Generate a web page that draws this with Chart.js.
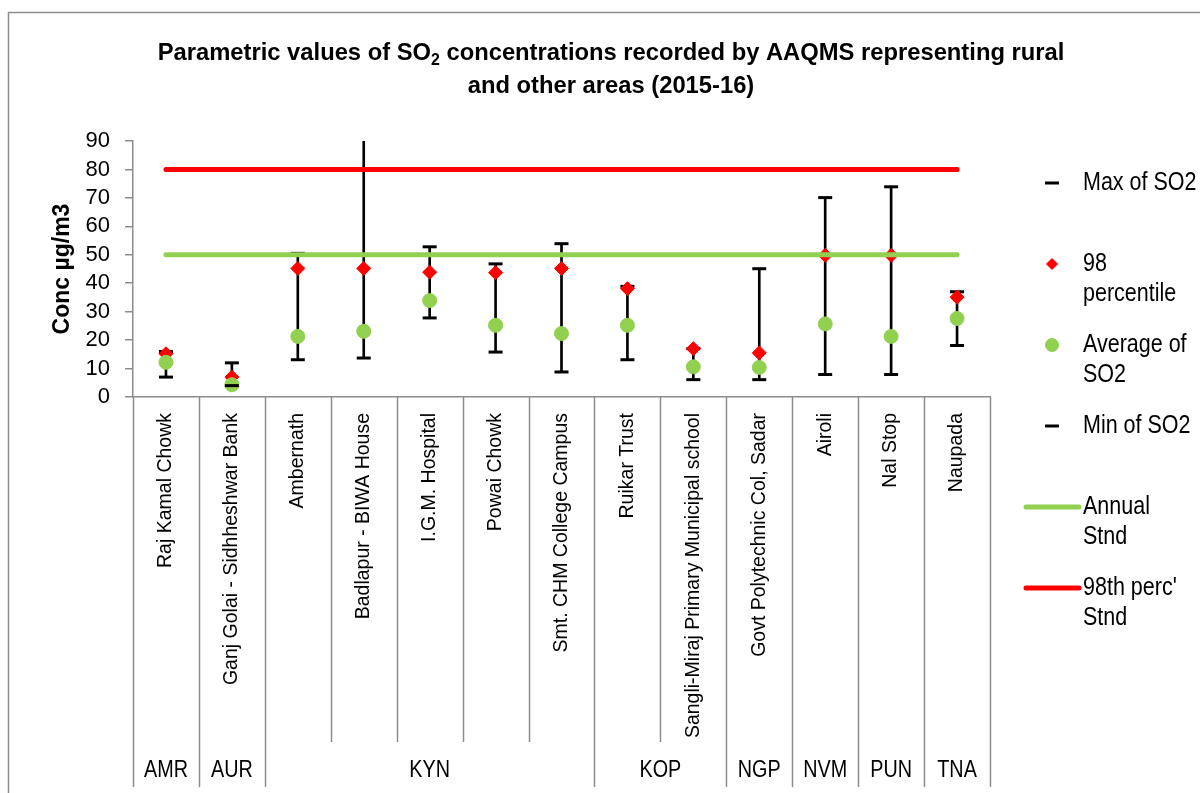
<!DOCTYPE html>
<html>
<head>
<meta charset="utf-8">
<script src="https://cdn.jsdelivr.net/npm/chart.js@4.4.1/dist/chart.umd.min.js"></script>
<style>
  html, body { margin:0; padding:0; background:#fff; }
  #wrap { width:1200px; height:793px; position:relative; }
</style>
</head>
<body>
<div id="wrap"><canvas id="so2Chart" width="1200" height="793"></canvas></div>
<script>
// —————— DATA ——————
const sites = [
  'Raj Kamal Chowk', 'Ganj Golai - Sidhheshwar Bank', 'Ambernath', 'Badlapur - BIWA House',
  'I.G.M. Hospital', 'Powai Chowk', 'Smt. CHM College Campus', 'Ruikar Trust',
  'Sangli-Miraj Primary Municipal school', 'Govt Polytechnic Col, Sadar', 'Airoli', 'Nal Stop', 'Naupada'
];
const districts = ['AMR','AUR','KYN','KYN','KYN','KYN','KYN','KOP','KOP','NGP','NVM','PUN','TNA'];

const maxSO2  = [16, 12, 50.5, 100, 52.8, 46.8, 53.9, 38.9, 17, 45.1, 70.1, 73.9, 37];
const p98SO2  = [15.2, 7, 45.2, 45.2, 43.9, 43.7, 45.2, 38.1, 17, 15.5, 49.8, 49.8, 35.1];
const avgSO2  = [12.2, 4.3, 21.3, 23.1, 33.9, 25.2, 22.3, 25.2, 10.6, 10.4, 25.7, 21.3, 27.6];
const minSO2  = [7, 4, 13.1, 13.7, 27.8, 15.8, 8.8, 13.1, 6.1, 6.1, 7.9, 7.9, 18.1];

const annualStnd = 50;
const perc98Stnd = 80;
const yTicks = [0, 10, 20, 30, 40, 50, 60, 70, 80, 90];

// —————— LOOK ——————
const FONT = "'Liberation Sans', Arial, sans-serif";
const GREEN = '#92d050';
const RED = '#ff0000';
const GREY = '#8c8c8c';
Chart.defaults.font.family = FONT;
Chart.defaults.color = '#000';

// no narrow face installed, so squeeze the text horizontally instead
function narrowText(ctx, text, x, y, font, sx, align) {
  ctx.save();
  ctx.font = font;
  ctx.translate(x, y);
  ctx.scale(sx, 1);
  ctx.textAlign = align || 'left';
  ctx.fillText(text, 0, 0);
  ctx.restore();
}

// —————— PLUGINS ——————
const frameAndTitle = {
  id: 'frameAndTitle',
  beforeDraw(chart) {
    const ctx = chart.ctx;
    ctx.save();
    ctx.fillStyle = '#fff';
    ctx.fillRect(0, 0, chart.width, chart.height);
    ctx.strokeStyle = GREY;
    ctx.lineWidth = 1.5;
    ctx.strokeRect(8.5, 12.5, chart.width + 20, chart.height + 20);
    ctx.restore();
  },
  afterDraw(chart) {
    const ctx = chart.ctx;
    const cx = chart.width / 2 + 11;
    const sx = 0.99;
    const big = 'bold 24px ' + FONT, small = 'bold 16px ' + FONT;
    const line1 = [['Parametric values of SO', big, 0], ['2', small, 5],
                   [' concentrations recorded by AAQMS representing rural', big, 0]];
    ctx.save();
    ctx.fillStyle = '#000';
    ctx.textBaseline = 'alphabetic';
    let w = 0;
    line1.forEach(([t, f]) => { ctx.font = f; w += ctx.measureText(t).width * sx; });
    let x = cx - w / 2;
    line1.forEach(([t, f, dy]) => {
      narrowText(ctx, t, x, 60 + dy, f, sx, 'left');
      ctx.font = f;
      x += ctx.measureText(t).width * sx;
    });
    narrowText(ctx, 'and other areas (2015-16)', cx, 93, big, sx, 'center');
    ctx.restore();
  }
};

// category dividers + district row under the x axis
const districtAxis = {
  id: 'districtAxis',
  afterDraw(chart) {
    const xs = chart.scales.x;
    const ctx = chart.ctx;
    const n = sites.length;
    const slot = (xs.right - xs.left) / n;
    const top = xs.top;
    const shortEnd = xs.top + 345;
    const longEnd = xs.bottom;
    ctx.save();
    ctx.strokeStyle = GREY;
    ctx.lineWidth = 1.5;
    for (let i = 0; i <= n; i++) {
      const bx = Math.round(xs.left + i * slot) + 0.5;
      const groupEdge = i === 0 || i === n || districts[i] !== districts[i - 1];
      ctx.beginPath();
      ctx.moveTo(bx, top);
      ctx.lineTo(bx, groupEdge ? longEnd : shortEnd);
      ctx.stroke();
    }
    ctx.fillStyle = '#000';
    ctx.textBaseline = 'middle';
    let start = 0;
    for (let i = 1; i <= n; i++) {
      if (i === n || districts[i] !== districts[start]) {
        const mid = xs.left + ((start + i) / 2) * slot;
        narrowText(ctx, districts[start], mid, xs.top + 374, '23px ' + FONT, 0.86, 'center');
        start = i;
      }
    }
    ctx.restore();
  }
};

const sideLegend = {
  id: 'sideLegend',
  afterDraw(chart) {
    const ctx = chart.ctx;
    const items = [
      [1, ['Max of SO2']],
      [2, ['98', 'percentile']],
      [3, ['Average of', 'SO2']],
      [4, ['Min of SO2']],
      [5, ['Annual', 'Stnd']],
      [6, ["98th perc'", 'Stnd']]
    ];
    const mx = 1052, tx = 1083;
    ctx.save();
    items.forEach(([di, lines], k) => {
      const ds = chart.data.datasets[di];
      const y = 183 + k * 81;
      if (ds.showLine === false) {
        ctx.fillStyle = ds.pointBackgroundColor;
        ctx.strokeStyle = ds.pointBorderColor;
        ctx.lineWidth = ds.pointBorderWidth;
        const r = ds.pointStyle === 'line' ? 7 : ds.pointStyle === 'rectRot' ? 5.5 : 6.5;
        Chart.helpers.drawPoint(ctx, { pointStyle: ds.pointStyle, radius: r,
          borderWidth: ds.pointBorderWidth, rotation: 0 }, mx, y);
      } else {
        ctx.strokeStyle = ds.borderColor;
        ctx.lineWidth = ds.borderWidth;
        ctx.lineCap = 'round';
        ctx.beginPath();
        ctx.moveTo(1026, y);
        ctx.lineTo(1079, y);
        ctx.stroke();
      }
      ctx.fillStyle = '#000';
      ctx.textBaseline = 'middle';
      lines.forEach((t, j) => narrowText(ctx, t, tx, y + j * 30, '25px ' + FONT, 0.86, 'left'));
    });
    ctx.restore();
  }
};

// —————— CHART ——————
const pointSet = (label, data, style, radius, fill, stroke, bw, order) => ({
  type: 'line', label, data, showLine: false, order,
  pointStyle: style, pointRadius: radius,
  pointBackgroundColor: fill, pointBorderColor: stroke, pointBorderWidth: bw
});

new Chart(document.getElementById('so2Chart'), {
  data: {
    labels: sites,
    datasets: [
      { type: 'bar', label: 'range', order: 7,
        data: sites.map((_, i) => [minSO2[i], maxSO2[i]]),
        backgroundColor: '#000', barThickness: 2, grouped: false },
      pointSet('Max of SO2', maxSO2, 'line', 7, '#000', '#000', 3, 6),
      pointSet('98 percentile', p98SO2, 'rectRot', 7, RED, RED, 1, 5),
      pointSet('Average of SO2', avgSO2, 'circle', 7, GREEN, GREEN, 1, 4),
      pointSet('Min of SO2', minSO2, 'line', 7, '#000', '#000', 3, 3),
      { type: 'line', label: 'Annual Stnd', order: 2,
        data: sites.map(() => annualStnd),
        borderColor: GREEN, borderWidth: 5, borderCapStyle: 'round', pointRadius: 0 },
      { type: 'line', label: "98th perc' Stnd", order: 1,
        data: sites.map(() => perc98Stnd),
        borderColor: RED, borderWidth: 5, borderCapStyle: 'round', pointRadius: 0 }
    ]
  },
  options: {
    responsive: false,
    animation: false,
    layout: { padding: { left: 45, top: 141, right: 210, bottom: 6 } },
    plugins: { legend: { display: false }, tooltip: { enabled: false } },
    scales: {
      x: {
        offset: true,
        grid: { display: false, drawTicks: true, tickLength: 8 },
        border: { display: true, color: GREY, width: 1.5 },
        ticks: { autoSkip: false, minRotation: 90, maxRotation: 90, padding: 8,
                 font: { size: 19.5 }, color: '#000' },
        afterFit: (s) => { s.height = 390; }
      },
      y: {
        min: 0, max: 90,
        afterBuildTicks: (s) => { s.ticks = yTicks.map(v => ({ value: v })); },
        grid: { display: true, drawOnChartArea: false, tickLength: 8, color: GREY, lineWidth: 1.5 },
        border: { display: true, color: GREY, width: 1.5 },
        ticks: { autoSkip: false, padding: 15, font: { size: 22 }, color: '#000' },
        title: { display: true, text: 'Conc µg/m3', font: { size: 23, weight: 'bold' }, color: '#000' },
        afterFit: (s) => { s.width = 88; }
      }
    }
  },
  plugins: [frameAndTitle, districtAxis, sideLegend]
});
</script>
</body>
</html>
